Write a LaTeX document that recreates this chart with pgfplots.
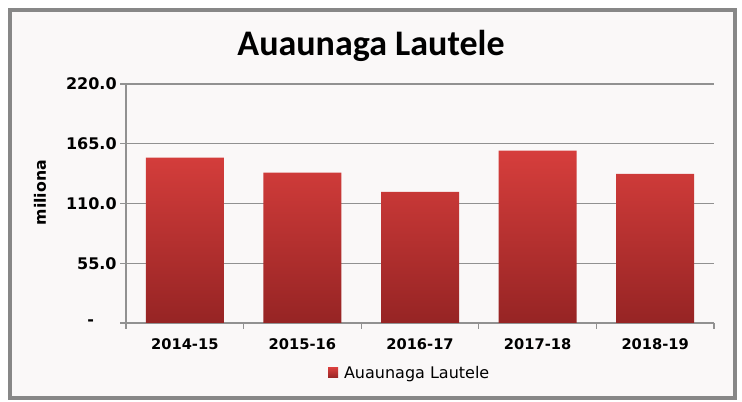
\documentclass[border=0pt]{standalone}
\usepackage{pgfplots}
\pgfplotsset{compat=1.18}
\usepackage{fontspec}
\setmainfont{DejaVu Sans}
\newfontfamily\titlefont{Carlito}
\definecolor{gridgray}{RGB}{145,145,145}
\definecolor{bartop}{RGB}{214,62,60}
\definecolor{barbot}{RGB}{150,36,36}
\definecolor{framegray}{RGB}{135,135,135}
\definecolor{bgtint}{RGB}{250,248,248}
\begin{document}
\begin{tikzpicture}[x=1pt,y=1pt]
\path[use as bounding box] (0,0) rectangle (556.5,301.5);
\fill[white] (0,0) rectangle (556.5,301.5);
\draw[framegray, line width=3pt, fill=bgtint] (7.5,3) rectangle (551.25,294);
\node[anchor=base] at (278.25,259.5) {\titlefont\bfseries\fontsize{27}{31}\selectfont Auaunaga Lautele};
\node[rotate=90] at (30,157) {\bfseries\fontsize{11.8}{14}\selectfont miliona};
\begin{axis}[
  at={(94.5pt,59.25pt)}, anchor=south west,
  width=441pt, height=179.25pt, scale only axis,
  xmin=0.5, xmax=5.5, ymin=0, ymax=220,
  ybar, bar width=58.5pt,
  axis lines=left, axis line style={-, draw=gridgray, line width=0.8pt},
  ytick={0,55,110,165,220},
  yticklabels={{-\rule{17pt}{0pt}},55.0,110.0,165.0,220.0},
  yticklabel style={font=\bfseries\fontsize{12}{14}\selectfont, xshift=1pt},
  ymajorgrids, grid style={gridgray, line width=0.8pt},
  xtick={1,2,3,4,5},
  xticklabels={2014-15,2015-16,2016-17,2017-18,2018-19},
  xticklabel style={font=\bfseries\fontsize{11}{13}\selectfont, yshift=-4pt},
  major x tick style={draw=none},
  minor xtick={0.5,1.5,2.5,3.5,4.5,5.5},
  tick align=outside,
  major tick length=4.5pt, minor tick length=4.5pt,
  tick style={draw=gridgray, line width=0.8pt},
  legend style={at={(0.483,-0.209)}, anchor=center, draw=none, fill=none,
    font=\fontsize{12}{14}\selectfont},
  legend image code/.code={\fill[bartop!90!barbot] (-1.5pt,-3.75pt) rectangle (6pt,3.75pt);},
]
\addplot[draw=none, top color=bartop, bottom color=barbot] coordinates {(1,152.2) (2,138.4) (3,120.6) (4,158.7) (5,137.2)};
\addlegendentry{\hspace{2.5pt}Auaunaga Lautele}
\end{axis}
\end{tikzpicture}
\end{document}
